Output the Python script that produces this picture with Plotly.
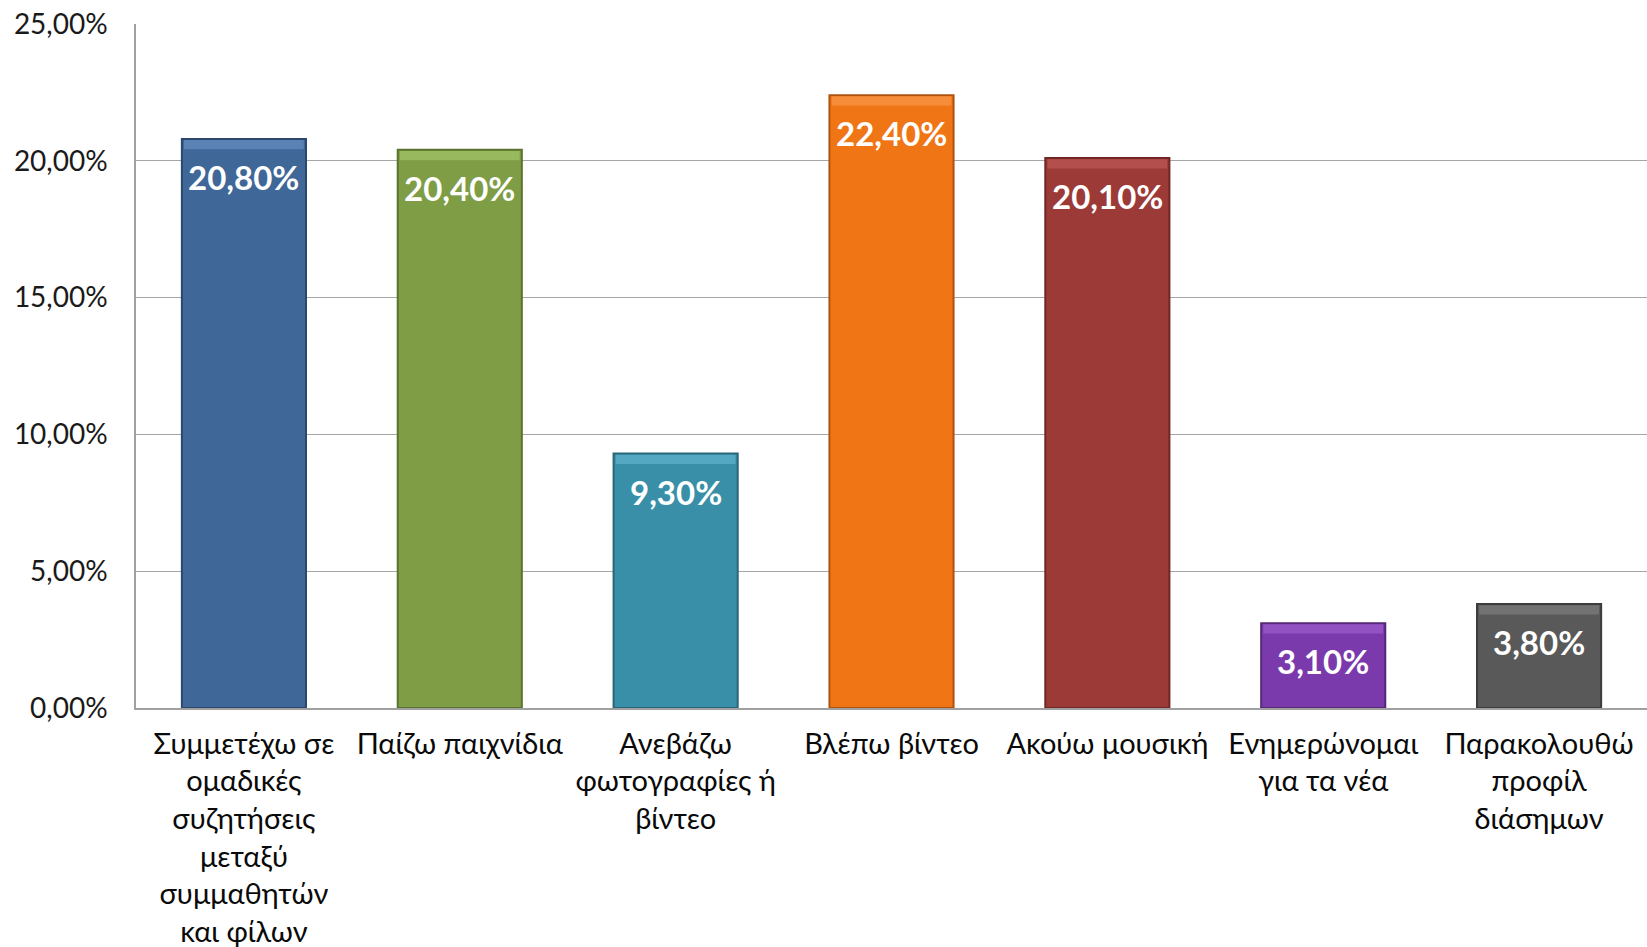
import plotly.graph_objects as go

# Activities and share of students (%)
categories = [
    "Συμμετέχω σε<br>ομαδικές<br>συζητήσεις<br>μεταξύ<br>συμμαθητών<br>και φίλων",
    "Παίζω παιχνίδια",
    "Ανεβάζω<br>φωτογραφίες ή<br>βίντεο",
    "Βλέπω βίντεο",
    "Ακούω μουσική",
    "Ενημερώνομαι<br>για τα νέα",
    "Παρακολουθώ<br>προφίλ<br>διάσημων",
]
values = [20.8, 20.4, 9.3, 22.4, 20.1, 3.1, 3.8]
bar_colors = ["#3F6797", "#7E9D45", "#3A8FA8", "#F07615", "#9C3A38", "#7B3AAB", "#595959"]
edge_colors = ["#2B476B", "#5A7430", "#286678", "#B0530C", "#712726", "#56287A", "#3C3C3C"]
bevel_colors = ["#5A82B5", "#98B95D", "#55A8C2", "#F68D3A", "#B3504D", "#9352C2", "#727272"]

tick_vals = [0, 5, 10, 15, 20, 25]
tick_text = ["0,00%", "5,00%", "10,00%", "15,00%", "20,00%", "25,00%"]

FONT = "Lato, 'Noto Sans', sans-serif"
BEVEL = 0.34  # depth of the lighter top edge, in axis units

def pct(v):
    return f"{v:.2f}".replace(".", ",") + "%"

fig = go.Figure()
fig.add_trace(go.Bar(
    x=categories,
    y=values,
    marker=dict(color=bar_colors, line=dict(color=edge_colors, width=2)),
    width=0.575,
    hoverinfo="skip",
))
# lighter bevel along the top of each bar
fig.add_trace(go.Bar(
    x=categories,
    y=[BEVEL] * len(values),
    base=[v - BEVEL - 0.04 for v in values],
    marker=dict(color=bevel_colors, line=dict(width=0)),
    width=0.555,
    hoverinfo="skip",
))

for c, v in zip(categories, values):
    fig.add_annotation(
        x=c, y=v, yshift=-38, yanchor="middle",
        text=f"<b>{pct(v)}</b>", showarrow=False,
        font=dict(family=FONT, size=33, color="white"),
    )

fig.update_layout(
    width=1647, height=947,
    margin=dict(l=136, r=0, t=24, b=239),
    paper_bgcolor="white", plot_bgcolor="white",
    showlegend=False, barmode="overlay",
    font=dict(family=FONT, size=29, color="#0A0A0A"),
    xaxis=dict(
        showline=True, linecolor="#A0A0A0", linewidth=1.5,
        ticks="", tickangle=0, ticklabelstandoff=9,
        tickfont=dict(family=FONT, size=29, color="#0A0A0A"),
        automargin=False, fixedrange=True,
    ),
    yaxis=dict(
        range=[0, 25], tickvals=tick_vals, ticktext=tick_text,
        showgrid=True, gridcolor="#A6A6A6", gridwidth=1.2,
        showline=True, linecolor="#A0A0A0", linewidth=1.5,
        ticks="", ticklabelstandoff=21,
        tickfont=dict(family=FONT, size=28, color="#1A1A1A"),
        zeroline=False, automargin=False, fixedrange=True,
    ),
)

fig.write_html("out.html")
